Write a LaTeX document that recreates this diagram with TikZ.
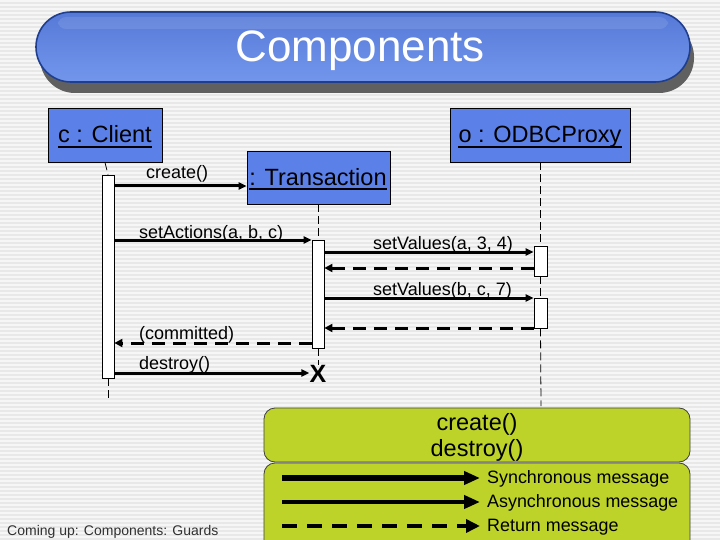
\documentclass[tikz,border=0pt]{standalone}
\usepackage{fontspec}
\setmainfont{Liberation Sans}
\usetikzlibrary{arrows.meta}
\definecolor{bgA}{HTML}{E8E8E8}
\definecolor{bgB}{HTML}{F6F6F6}
\definecolor{objblue}{HTML}{5B80E8}
\definecolor{legendgreen}{HTML}{BDD32A}
\definecolor{barborder}{HTML}{203E8E}
\definecolor{bartop}{HTML}{5679D8}
\definecolor{barmid}{HTML}{3A5CC2}
\definecolor{barbot}{HTML}{7396EC}
\definecolor{footgray}{HTML}{303030}
\tikzset{
  objbox/.style={draw=black, line width=0.8pt, fill=objblue, inner sep=0pt},
  objname/.style={font=\fontsize{23.5}{26}\selectfont, inner sep=0pt, anchor=base},
  uline/.style={line width=2.2pt},
  life/.style={line width=0.8pt, dash pattern=on 8pt off 4pt},
  act/.style={draw=black, line width=0.8pt, fill=white, minimum width=12pt, inner sep=0pt},
  sync/.style={line width=3pt, -{Triangle[length=8pt,width=7pt]}},
  ret/.style={line width=3pt, dash pattern=on 13pt off 8pt, -{Triangle[length=8pt,width=8pt]}},
  lbl/.style={font=\fontsize{18}{20}\selectfont, inner sep=0pt, anchor=base west},
  legendbox/.style={draw=black!75, line width=0.8pt, fill=legendgreen, rounded corners=11pt},
  legtxt/.style={font=\fontsize{17.9}{20}\selectfont, inner sep=0pt, anchor=base west},
  bigtxt/.style={font=\fontsize{23.5}{26}\selectfont, inner sep=0pt, anchor=base},
}
\begin{document}
\begin{tikzpicture}[x=1pt,y=-1pt]
\useasboundingbox (0,0) rectangle (720,540);
\clip (0,0) rectangle (720,540);
% background stripes
\fill[bgA] (0,0) rectangle (720,540);
\foreach \i in {0,...,135} {\fill[bgB] (0,4*\i) rectangle (720,4*\i+2);}

% title bar
\fill[gray!75!black, rounded corners=35pt] (40,22) rectangle (694,93);
\path[rounded corners=35pt, top color=bartop, middle color=barmid, bottom color=barbot, draw=barborder, line width=1.6pt] (36,12) rectangle (690,82);
\fill[white, opacity=0.1, rounded corners=8pt] (58,17) rectangle (668,29);
\node[font=\fontsize{44}{48}\selectfont, text=white, inner sep=0pt, anchor=base] (title) at (360,62) {Components};

% lifeline ends
\coordinate (cbot) at (108,402);
\coordinate (obot) at (541,406);

% objects
\node[objbox, minimum width=114pt, minimum height=54pt] (cb) at (105,135) {};
\node[objname] (ct) at (105,143) {c : Client};
\draw[uline] ([yshift=-4pt]ct.base west) -- ([yshift=-4pt]ct.base east);

\node[objbox, minimum width=180pt, minimum height=54pt] (ob) at (540,135) {};
\node[objname] (ot) at (540,143) {o : ODBCProxy};
\draw[uline] ([yshift=-4pt]ot.base west) -- ([yshift=-4pt]ot.base east);

\node[objbox, minimum width=143pt, minimum height=53pt] (tb) at (318.5,177.5) {};
\node[objname] (tt) at (318,186) {: Transaction};
\draw[uline] ([yshift=-3pt]tt.base west) -- ([yshift=-3pt]tt.base east);

% activations
\node[act, minimum height=203pt] (ca) at (108,276.5) {};
\node[act, minimum height=108pt] (ta) at (318,294) {};
\node[act, minimum width=13pt, minimum height=30pt] (oa1) at (540.5,261) {};
\node[act, minimum width=13pt, minimum height=30pt] (oa2) at (540.5,313) {};
\node[font=\fontsize{25}{27}\selectfont\bfseries, inner sep=0pt] (tx) at (318,374) {X};

% lifeline segments
\draw[life] (cb.south) -- (ca.north);
\draw[life] (ca.south) -- (cbot);
\draw[life] (tb.south -| ta.north) -- (ta.north);
\draw[life] (ta.south) -- (tx.north);
\draw[life] (ob.south -| oa1.north) -- (oa1.north);
\draw[life] (oa1.south) -- (oa2.north);
\draw[life] (oa2.south) -- (obot);

% messages
\coordinate (y1) at (0,186);
\coordinate (y2) at (0,240);
\coordinate (y3) at (0,252);
\coordinate (y4) at (0,268);
\coordinate (y5) at (0,298);
\coordinate (y6) at (0,328);
\coordinate (y7) at (0,343);
\coordinate (y8) at (0,373);

\draw[sync] (ca.east |- y1) -- (tb.west |- y1);
\node[lbl] (l1) at (146,179) {create()};
\draw[sync] (ca.east |- y2) -- (ta.west |- y2);
\node[lbl] (l2) at (139,238) {setActions(a, b, c)};
\draw[sync] (ta.east |- y3) -- (oa1.west |- y3);
\node[lbl] (l3) at (373,249) {setValues(a, 3, 4)};
\draw[ret] (oa1.west |- y4) -- (ta.east |- y4);
\draw[sync] (ta.east |- y5) -- (oa2.west |- y5);
\node[lbl] (l4) at (373,295) {setValues(b, c, 7)};
\draw[ret] (oa2.west |- y6) -- (ta.east |- y6);
\draw[ret] (ta.west |- y7) -- (ca.east |- y7);
\node[lbl] (l5) at (139,339) {(committed)};
\draw[sync] (ca.east |- y8) -- (tx.west |- y8);
\node[lbl] (l6) at (139,369) {destroy()};

% legend
\draw[legendbox] (264,408) rectangle (690,462);
\node[bigtxt] (lc) at (477,430) {create()};
\node[bigtxt] (ld) at (477,456) {destroy()};
\draw[legendbox] (264,463) rectangle (690,560);

\coordinate (a1s) at (282,478);
\coordinate (a1e) at (480,478);
\coordinate (a2s) at (282,502);
\coordinate (a2e) at (480,502);
\coordinate (a3s) at (282,526);
\coordinate (a3e) at (480,526);
\draw[line width=5.5pt, -{Triangle[length=16pt,width=13pt]}] (a1s) -- (a1e);
\draw[line width=4pt, -{Triangle[length=16pt,width=13pt]}] (a2s) -- (a2e);
\draw[line width=4.5pt, dash pattern=on 15pt off 10pt, -{Triangle[length=14pt,width=13pt]}] (a3s) -- (a3e);
\node[legtxt] (t1) at (487,483) {Synchronous message};
\node[legtxt] (t2) at (487,507) {Asynchronous message};
\node[legtxt] (t3) at (487,531) {Return message};

% footer
\node[font=\fontsize{14}{16}\selectfont, text=footgray, inner sep=0pt, anchor=base west] (foot) at (7,535) {Coming up: Components: Guards};
\end{tikzpicture}
\end{document}
